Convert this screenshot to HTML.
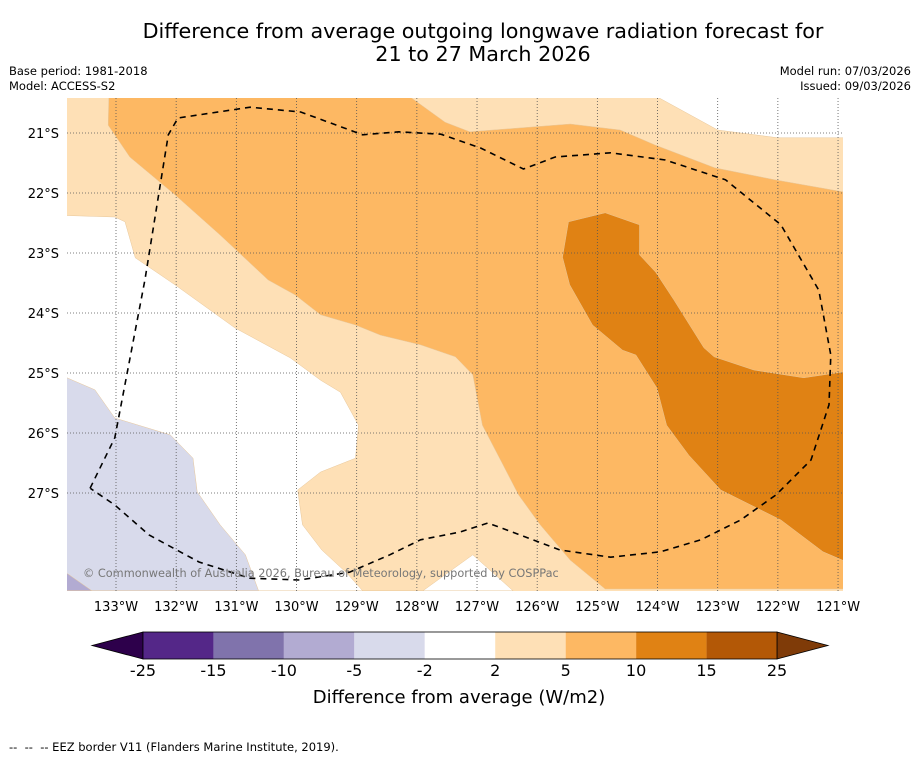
<!DOCTYPE html>
<html><head><meta charset="utf-8"><style>
body{margin:0;background:#fff;font-family:"Liberation Sans","DejaVu Sans",sans-serif}
svg text{font-family:"DejaVu Sans","Liberation Sans",sans-serif}
</style></head><body>
<svg id="c" width="919" height="758" viewBox="0 0 919 758">
<text x="483" y="38" font-size="20.7" text-anchor="middle">Difference from average outgoing longwave radiation forecast for</text>
<text x="483" y="61" font-size="20.7" text-anchor="middle">21 to 27 March 2026</text>
<text x="9" y="75" font-size="11.5">Base period: 1981-2018</text>
<text x="9" y="90" font-size="11.5">Model: ACCESS-S2</text>
<text x="911" y="75" font-size="11.5" text-anchor="end">Model run: 07/03/2026</text>
<text x="911" y="90" font-size="11.5" text-anchor="end">Issued: 09/03/2026</text>
<defs><clipPath id="mc"><rect x="67" y="98" width="776" height="493"/></clipPath></defs>
<g id="map" clip-path="url(#mc)">
<rect x="67" y="98" width="776" height="493" fill="#fee0b6"/>
</g>
<g id="axes"></g>
<text x="83" y="577" font-size="11.3" fill="#777">© Commonwealth of Australia 2026, Bureau of Meteorology, supported by COSPPac</text>
<g id="cbar"></g>
<text x="459" y="703" font-size="18" text-anchor="middle">Difference from average (W/m2)</text>
<text x="9" y="751" font-size="11.5">-- &#160;-- &#160;-- EEZ border V11 (Flanders Marine Institute, 2019).</text>
</svg>
<script>
const NS="http://www.w3.org/2000/svg";
const lonTicks=[-133,-132,-131,-130,-129,-128,-127,-126,-125,-124,-123,-122,-121];
const latTicks=[-21,-22,-23,-24,-25,-26,-27];
const latLabels=[-21,-22,-23,-24,-25,-26,-27];
const cbLevels=[-25,-15,-10,-5,-2,2,5,10,15,25];
const cbColors=["#542788","#8073ac","#b2abd2","#d8daeb","#ffffff","#fee0b6","#fdb863","#e08214","#b35806"];
const cbExtColors=["#2d004b","#7f3b08"];
// contour polygons as [lon,lat] pairs
const whiteTopRight=[[-124.0,-20.4],[-123.0,-20.95],[-122.0,-21.08],[-120.9,-21.08],[-120.9,-20.4]];
const orangePoly=[[-133.12,-20.4],[-133.13,-20.87],[-132.77,-21.4],[-132.02,-22.03],[-131.27,-22.7],[-130.47,-23.45],[-130.02,-23.7],[-129.6,-24.03],[-129.02,-24.2],[-128.6,-24.37],[-127.94,-24.53],[-127.36,-24.73],[-127.07,-25.03],[-126.91,-25.87],[-126.61,-26.45],[-126.31,-27.03],[-125.95,-27.53],[-125.45,-28.12],[-124.87,-28.6],[-120.9,-28.6],[-120.92,-21.98],[-122.05,-21.78],[-123.05,-21.58],[-124.04,-21.2],[-124.62,-20.95],[-125.45,-20.85],[-127.12,-20.98],[-127.53,-20.82],[-128.11,-20.4]];
const whitePoly=[[-134,-22.37],[-133.02,-22.4],[-132.85,-22.48],[-132.68,-23.08],[-132.02,-23.53],[-131.02,-24.25],[-130.1,-24.75],[-129.6,-25.12],[-129.27,-25.32],[-128.97,-25.87],[-129.02,-26.42],[-129.6,-26.65],[-129.98,-26.95],[-129.9,-27.53],[-129.58,-27.95],[-129.17,-28.33],[-128.9,-28.63],[-127.9,-28.63],[-127.07,-28.03],[-126.4,-28.63],[-134,-28.63]];
const purplePoly=[[-134,-25.0],[-133.35,-25.28],[-133.02,-25.75],[-132.1,-26.03],[-131.72,-26.42],[-131.65,-26.98],[-131.27,-27.53],[-130.85,-28.03],[-130.63,-28.63],[-134,-28.63]];
const darkPurplePoly=[[-134,-28.3],[-133.8,-28.35],[-133.4,-28.63],[-134,-28.63]];
const darkOrangePoly=[[-125.48,-22.48],[-124.87,-22.33],[-124.3,-22.53],[-124.3,-23.03],[-124.03,-23.32],[-123.73,-23.78],[-123.23,-24.58],[-123.06,-24.73],[-122.4,-24.95],[-121.57,-25.08],[-120.9,-24.98],[-120.9,-28.13],[-121.25,-27.98],[-121.95,-27.45],[-122.95,-26.95],[-123.48,-26.37],[-123.85,-25.87],[-124.01,-25.25],[-124.36,-24.7],[-124.58,-24.62],[-125.08,-24.2],[-125.46,-23.53],[-125.58,-23.07]];
const eez=[[-133.43,-26.92],[-133.02,-26.08],[-132.52,-23.45],[-132.13,-21.03],[-131.97,-20.75],[-130.77,-20.57],[-129.93,-20.65],[-128.9,-21.03],[-128.3,-20.98],[-127.6,-21.02],[-126.94,-21.25],[-126.23,-21.6],[-125.7,-21.4],[-124.78,-21.33],[-123.87,-21.45],[-122.87,-21.78],[-121.95,-22.53],[-121.32,-23.62],[-121.12,-24.7],[-121.15,-25.53],[-121.45,-26.45],[-122.03,-27.03],[-122.62,-27.45],[-123.28,-27.78],[-123.95,-27.98],[-124.78,-28.07],[-125.62,-27.95],[-126.28,-27.7],[-126.82,-27.5],[-127.28,-27.65],[-127.94,-27.78],[-128.45,-28.03],[-129.12,-28.32],[-129.95,-28.45],[-130.78,-28.42],[-131.62,-28.15],[-132.45,-27.7],[-133.02,-27.2],[-133.43,-26.92]];
function X(lon){return 116+(lon+133)*60.17;}
function Y(lat){return 133+(-21-lat)*60;}
function mk(tag,attrs,parent){const e=document.createElementNS(NS,tag);for(const k in attrs)e.setAttribute(k,attrs[k]);parent.appendChild(e);return e;}
function pts(a){return a.map(p=>X(p[0]).toFixed(1)+","+Y(p[1]).toFixed(1)).join(" ");}
const map=document.getElementById("map");
const layers=[[whiteTopRight,"#ffffff","white-region-top-right"],[orangePoly,"#fdb863","orange-region"],[whitePoly,"#ffffff","white-region"],[purplePoly,"#d8daeb","light-purple-region"],[darkPurplePoly,"#b2abd2","purple-region"],[darkOrangePoly,"#e08214","dark-orange-region"]];
for(const L of layers){
 const p=mk("polygon",{points:pts(L[0]),fill:L[1],stroke:"#e8c79a","stroke-width":0.5},map);
 
 
}
for(const lon of lonTicks){
 const l=mk("line",{x1:X(lon),x2:X(lon),y1:98,y2:591,stroke:"#555","stroke-width":0.8,"stroke-dasharray":"1,2"},map);
 
 
}
for(const lat of latTicks){
 const l=mk("line",{x1:67,x2:843,y1:Y(lat),y2:Y(lat),stroke:"#555","stroke-width":0.8,"stroke-dasharray":"1,2"},map);
 
 
}
const ez=mk("polyline",{points:pts(eez),fill:"none",stroke:"#000","stroke-width":1.6,"stroke-dasharray":"6,5"},map);


const axes=document.getElementById("axes");
for(const lon of lonTicks){
 const t=mk("text",{x:X(lon),y:611,"font-size":13,"text-anchor":"middle"},axes);
 t.textContent=Math.abs(lon)+"°W";
 
 
}
for(const lat of latLabels){
 const t=mk("text",{x:59,y:Y(lat)+5,"font-size":13,"text-anchor":"end"},axes);
 t.textContent=Math.abs(lat)+"°S";
 
 
}
const cb=document.getElementById("cbar");
const cx0=143,cx1=777,cy0=632,cy1=659,n=cbColors.length,w=(cx1-cx0)/n;
const e1=mk("polygon",{points:`92,${(cy0+cy1)/2} ${cx0},${cy0} ${cx0},${cy1}`,fill:cbExtColors[0],stroke:"#000","stroke-width":0.8},cb);


const e2=mk("polygon",{points:`828,${(cy0+cy1)/2} ${cx1},${cy0} ${cx1},${cy1}`,fill:cbExtColors[1],stroke:"#000","stroke-width":0.8},cb);


cbColors.forEach((c,i)=>{
 const r=mk("rect",{x:cx0+i*w,y:cy0,width:w,height:cy1-cy0,fill:c},cb);
 
 
});
mk("rect",{x:cx0,y:cy0,width:cx1-cx0,height:cy1-cy0,fill:"none",stroke:"#000","stroke-width":0.8},cb);
cbLevels.forEach((v,i)=>{
 const t=mk("text",{x:cx0+i*w,y:676,"font-size":16,"text-anchor":"middle"},cb);
 t.textContent=v;
 
 
});
</script>
</body></html>
